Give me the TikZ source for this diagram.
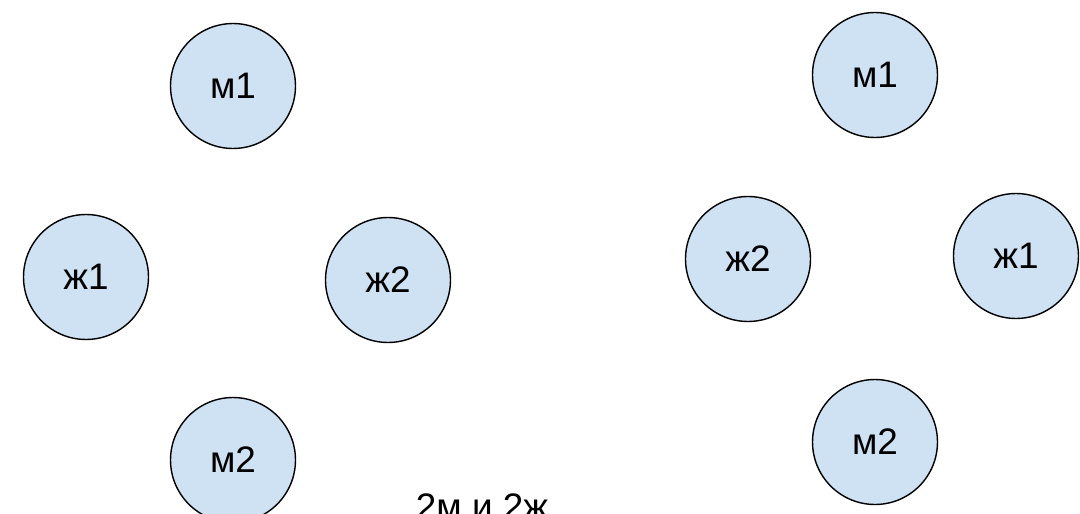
\documentclass[tikz,border=0pt]{standalone}
\usepackage{fontspec}
\setmainfont{Liberation Sans}
\definecolor{pfill}{HTML}{CFE2F3}
\begin{document}
\begin{tikzpicture}[x=0.02cm,y=-0.02cm,
  person/.style={circle,draw=black,line width=0.8pt,fill=pfill,inner sep=0pt,minimum size=2.5cm,font=\fontsize{21}{25}\selectfont},
  caption/.style={font=\fontsize{21}{25}\selectfont,inner sep=0pt,anchor=base}]
\clip (0,0) rectangle (1080,514);
\fill[white] (0,0) rectangle (1080,514);
% left group
\node[person] (lm1) at (233,86) {м1};
\node[person] (lw1) at (86,277) {ж1};
\node[person] (lw2) at (388,280) {ж2};
\node[person] (lm2) at (233,460) {м2};
% right group
\node[person] (rm1) at (875,75) {м1};
\node[person] (rw2) at (748,259) {ж2};
\node[person] (rw1) at (1016,256) {ж1};
\node[person] (rm2) at (875,442) {м2};
% caption
\node[caption] (cap) at (482,519) {2м и 2ж};
\end{tikzpicture}
\end{document}
